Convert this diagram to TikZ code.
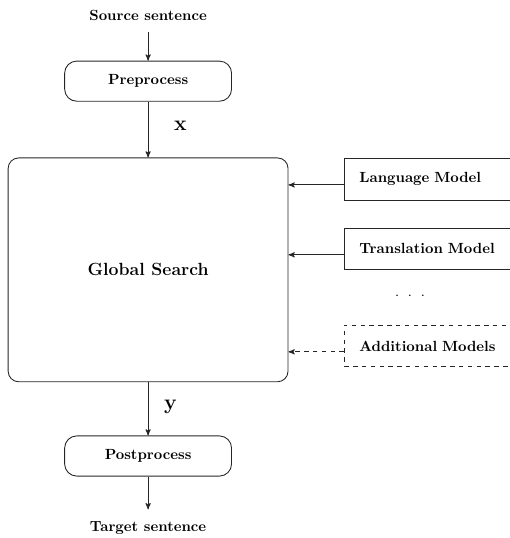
\documentclass[tikz,border=0pt]{standalone}
\usepackage{tikz}
\usetikzlibrary{arrows}

\begin{document}
\begin{tikzpicture}[->,>=stealth',shorten >=0pt,auto,node distance=2.5cm,semithick,draw=black!85,
  text node/.style={font=\bfseries, inner sep=0.28cm},
  proc node/.style={rectangle,rounded corners=0.29cm,draw,font=\bfseries,minimum width=3.99cm,minimum height=0.96cm},
  search node/.style={rectangle,rounded corners=0.25cm,draw,font=\large\bfseries,minimum width=6.69cm,minimum height=5.35cm},
  model node/.style={rectangle,draw,font=\bfseries,anchor=west,minimum width=5cm,minimum height=1cm,text width=4.3cm,align=left,inner xsep=0.36cm}]

  \clip (0,0) rectangle (12.19,-12.86);

  \node[text node] (src) at (3.54,-0.36) {Source sentence};
  \node[proc node] (pre) [below of=src, node distance=1.58cm] {Preprocess};
  \node[search node] (gs) [below of=pre, node distance=4.51cm] {Global Search};
  \node[proc node] (post) [below of=gs, node distance=4.45cm] {Postprocess};
  \node[text node] (tgt) [below of=post, node distance=1.72cm] {Target sentence};

  \node[model node] (lm) at (8.22,-4.28) {Language Model};
  \node[model node] (tm) at (8.22,-5.95) {Translation Model};
  \node[model node, dashed] (am) at (8.22,-8.27) {Additional Models};
  \node[-] (dots) at (9.80,-7.07) {$\cdot$\hspace{6pt}$\cdot$\hspace{6pt}$\cdot$};

  \path[->]
       (src) edge node {} (pre)
       (pre) edge node[swap, xshift=1.05cm, yshift=0.08cm] {\Large$\mathbf{x}$} (gs)
       (gs) edge node[swap, xshift=0.82cm, yshift=0.05cm] {\Large$\mathbf{y}$} (post)
       (post) edge node {} (tgt);

  \draw[->] ([yshift=-0.14cm]lm.west) -- ([yshift=-0.14cm]lm.west -| gs.east);
  \draw[->] ([yshift=-0.14cm]tm.west) -- ([yshift=-0.14cm]tm.west -| gs.east);
  \draw[->, dashed] ([yshift=-0.14cm]am.west) -- ([yshift=-0.14cm]am.west -| gs.east);
\end{tikzpicture}
\end{document}
